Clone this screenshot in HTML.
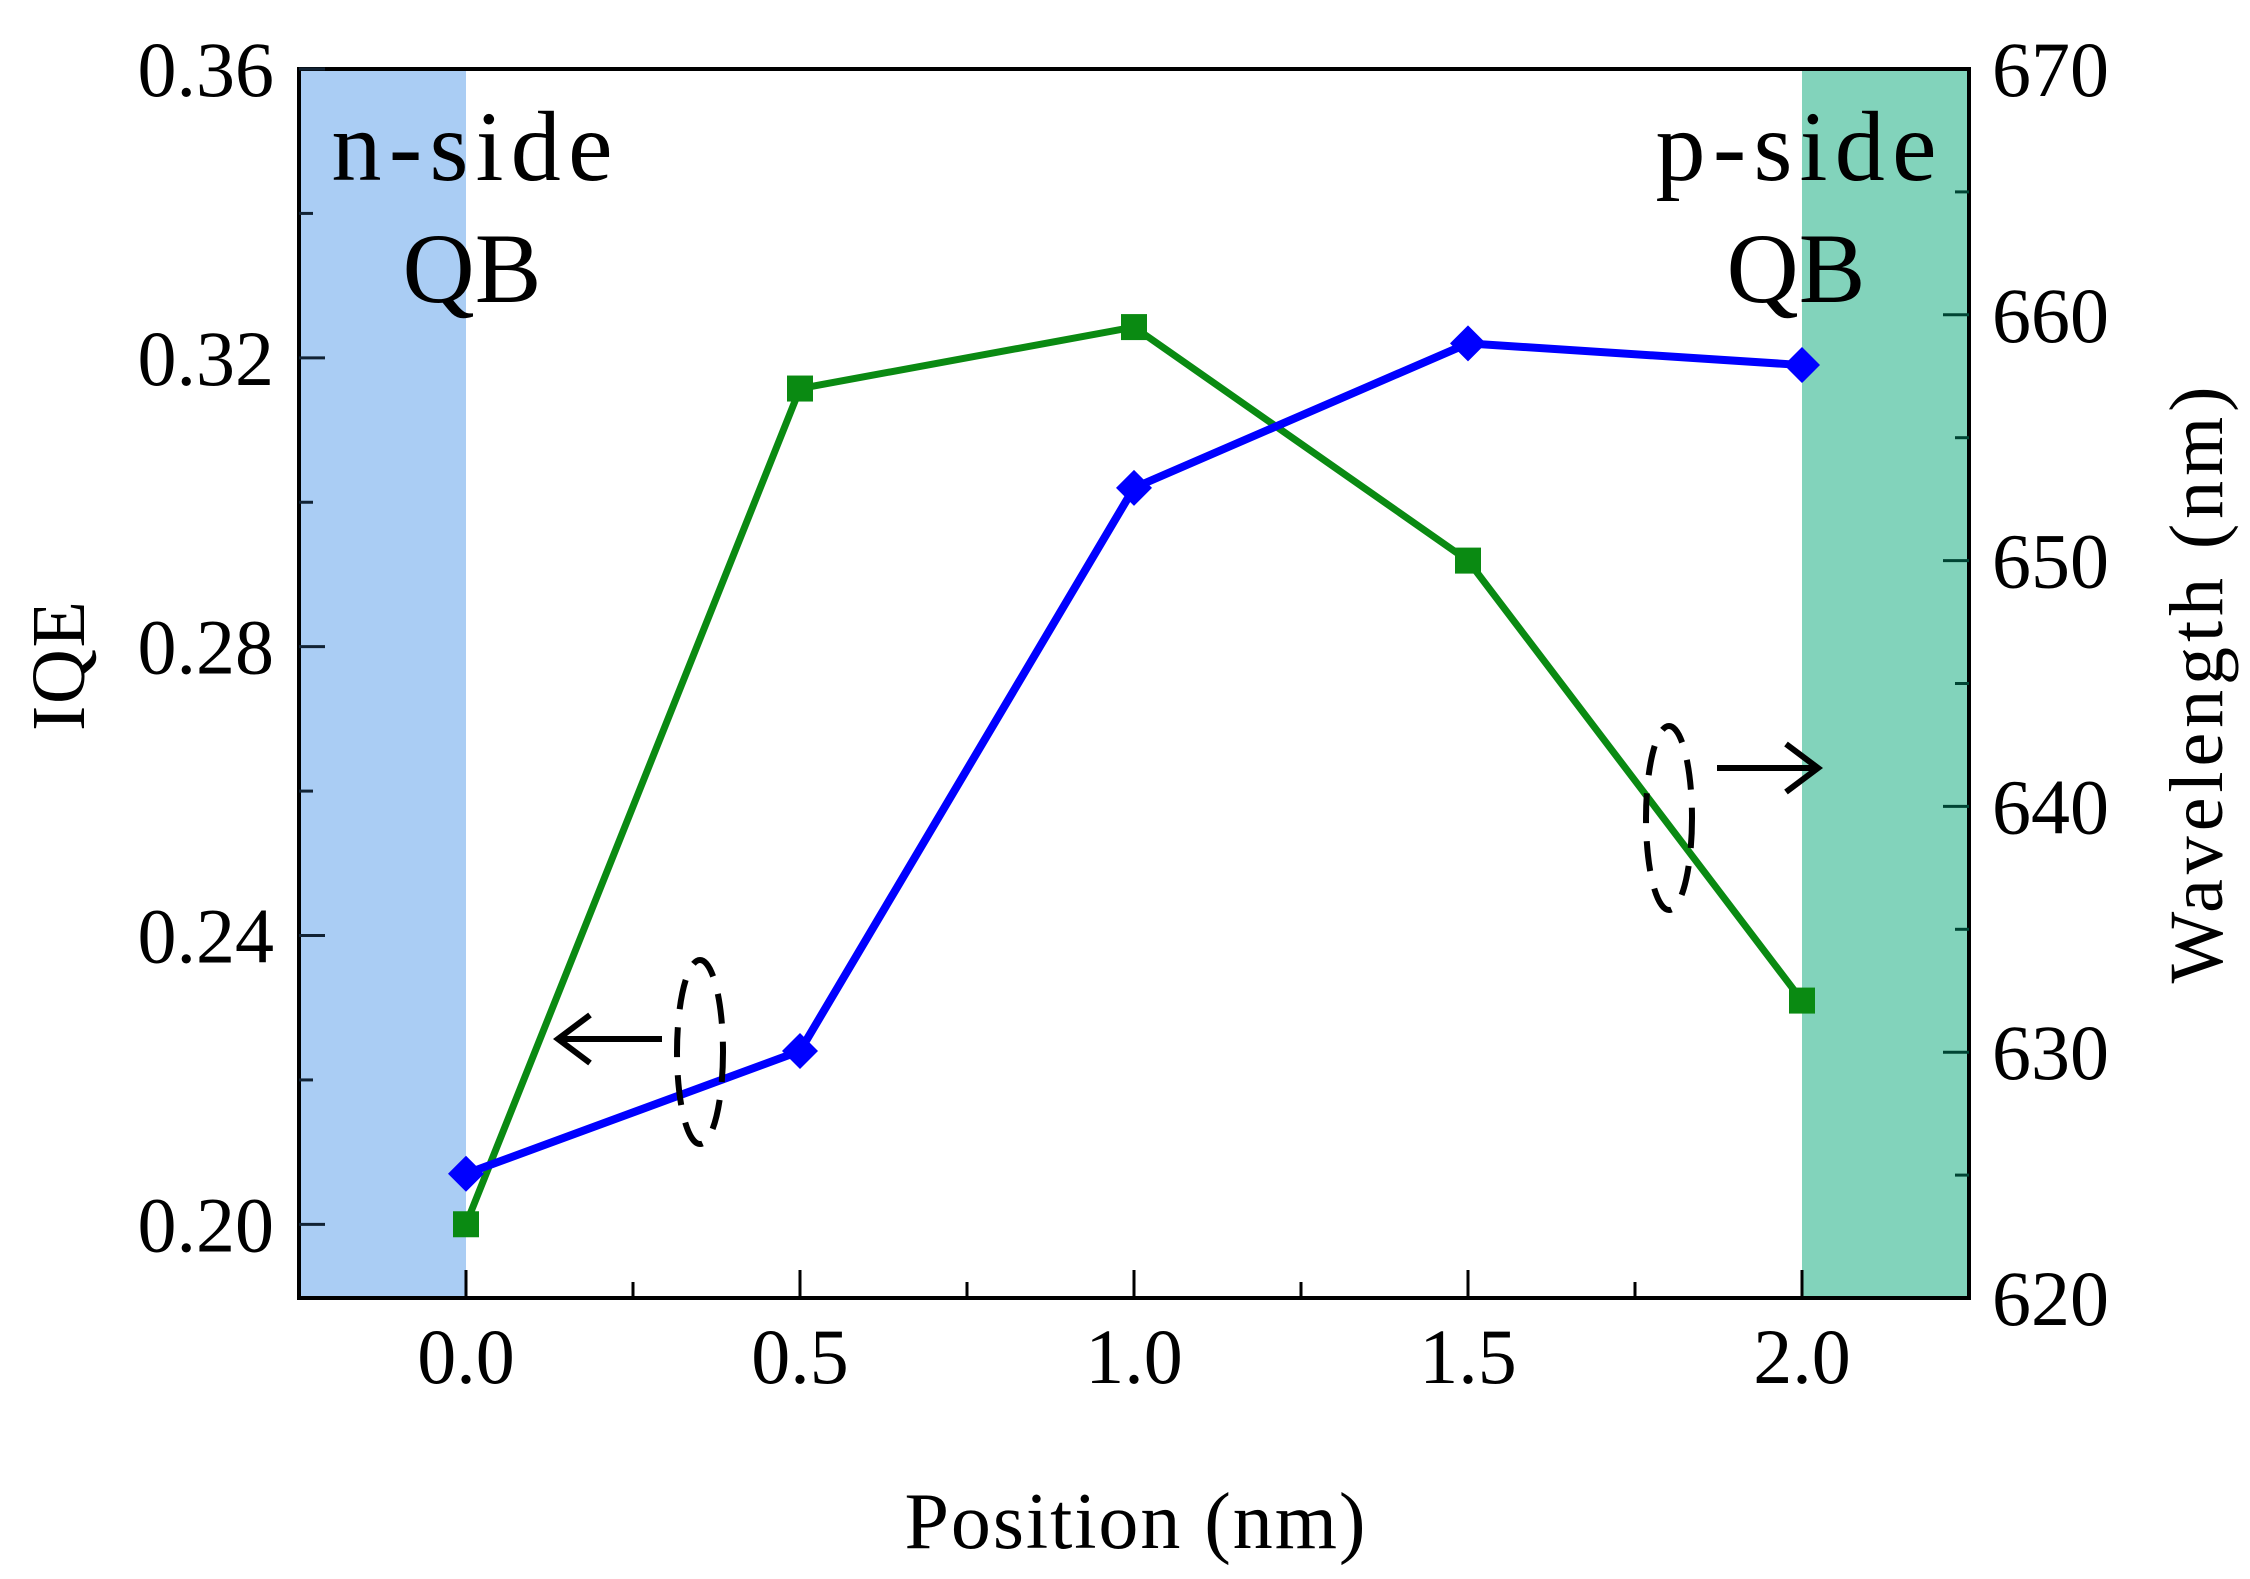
<!DOCTYPE html>
<html><head><meta charset="utf-8"><style>
html,body{margin:0;padding:0;background:#fff;}
svg{display:block;font-family:"Liberation Serif",serif;}
</style></head><body>
<svg id="chart" width="2250" height="1579" viewBox="0 0 2250 1579" xmlns="http://www.w3.org/2000/svg">
<g id="bands"></g>
<g id="series"></g>
<g id="axes"></g>
<g id="notes"></g>
</svg>
<script>
const positions = [0, 0.5, 1.0, 1.5, 2.0];
const iqeValues = [0.207, 0.224, 0.302, 0.322, 0.319];
const wavelengthValues = [623, 657, 659.5, 650, 632.1];
const xTickLabels = ["0.0", "0.5", "1.0", "1.5", "2.0"];
const yLeftTickLabels = ["0.20", "0.24", "0.28", "0.32", "0.36"];
const yRightTickLabels = ["620", "630", "640", "650", "660", "670"];

const L = 299, R = 1969, T = 69, B = 1298;
const xMin = -0.25, xMax = 2.25;
const yLMin = 0.1898, yLMax = 0.36;
const yRMin = 620, yRMax = 670;
function xs(v){ return L + (v - xMin) / (xMax - xMin) * (R - L); }
function yl(v){ return B - (v - yLMin) / (yLMax - yLMin) * (B - T); }
function yr(v){ return B - (v - yRMin) / (yRMax - yRMin) * (B - T); }

const NS = "http://www.w3.org/2000/svg";
function mk(tag, attrs, parent){
  const e = document.createElementNS(NS, tag);
  for (const k in attrs) e.setAttribute(k, attrs[k]);
  parent.appendChild(e);
  return e;
}
const bands = document.getElementById('bands');
const series = document.getElementById('series');
const axes = document.getElementById('axes');

let nb = mk('rect', {x: L, y: T, width: xs(0) - L, height: B - T, fill: '#aacdf4'}, bands);


let pb = mk('rect', {x: xs(2.0), y: T, width: R - xs(2.0), height: B - T, fill: '#82d3bb'}, bands);



let gp = positions.map((p, i) => xs(p) + ',' + yr(wavelengthValues[i])).join(' ');
let gl = mk('polyline', {points: gp, fill: 'none', stroke: '#0a8a12', 'stroke-width': 7, 'stroke-linejoin': 'round'}, series);


let bp = positions.map((p, i) => xs(p) + ',' + yl(iqeValues[i])).join(' ');
let bl = mk('polyline', {points: bp, fill: 'none', stroke: '#0000ff', 'stroke-width': 8, 'stroke-linejoin': 'round'}, series);



positions.forEach((p, i) => {
  const cx = xs(p), cy = yr(wavelengthValues[i]);
  let s = mk('rect', {x: cx - 13, y: cy - 13, width: 26, height: 26, fill: '#0a8a12'}, series);
  
  
});
positions.forEach((p, i) => {
  const cx = xs(p), cy = yl(iqeValues[i]);
  let d = mk('polygon', {points: `${cx},${cy-18} ${cx+18},${cy} ${cx},${cy+18} ${cx-18},${cy}`, fill: '#0000ff'}, series);
  
  
});

let fr = mk('rect', {x: L, y: T, width: R - L, height: B - T, fill: 'none', stroke: '#000', 'stroke-width': 4}, axes);



for (let v = -0.25; v <= 2.26; v += 0.25) {
  const major = Math.abs(v * 2 - Math.round(v * 2)) < 1e-6;
  const x = xs(v);
  if (x <= L + 2 || x >= R - 2) continue;
  let t = mk('line', {x1: x, y1: B, x2: x, y2: B - (major ? 28 : 16), stroke: '#000', 'stroke-width': 3}, axes);
  
  
}
positions.forEach((p, i) => {
  let t = mk('text', {x: xs(p), y: 1383, 'font-size': 78, 'text-anchor': 'middle'}, axes);
  t.textContent = xTickLabels[i];
  
  
});
for (let k = 0; k <= 8; k++) {
  const v = 0.20 + k * 0.02, y = yl(v);
  let t = mk('line', {x1: L, y1: y, x2: L + (k % 2 === 0 ? 26 : 14), y2: y, stroke: '#123', 'stroke-width': 3}, axes);
  
  
}
yLeftTickLabels.forEach((lab, i) => {
  let t = mk('text', {x: 274, y: yl(0.20 + i * 0.04) + 27, 'font-size': 78, 'text-anchor': 'end'}, axes);
  t.textContent = lab;
  
  
});
for (let k = 1; k < 10; k++) {
  const v = 620 + k * 5, y = yr(v);
  let t = mk('line', {x1: R, y1: y, x2: R - (k % 2 === 0 ? 26 : 14), y2: y, stroke: '#043', 'stroke-width': 3}, axes);
  
  
}
yRightTickLabels.forEach((lab, i) => {
  let t = mk('text', {x: 1992, y: yr(620 + i * 10) + 27, 'font-size': 78, 'text-anchor': 'start'}, axes);
  t.textContent = lab;
  
  
});
</script>
<svg style="position:absolute;left:0;top:0" width="2250" height="1579" viewBox="0 0 2250 1579" xmlns="http://www.w3.org/2000/svg" font-family="Liberation Serif, serif">
<text x="1135" y="1548" font-size="80" text-anchor="middle" textLength="461">Position (nm)</text>
<text transform="translate(84,666) rotate(-90)" font-size="76" text-anchor="middle" textLength="130">IQE</text>
<text transform="translate(2222,685) rotate(-90)" font-size="76" text-anchor="middle" textLength="597">Wavelength (nm)</text>
<text x="472" y="180" font-size="100" text-anchor="middle" textLength="281">n-side</text>
<text x="472" y="302" font-size="100" text-anchor="middle">QB</text>
<text x="1796" y="180" font-size="100" text-anchor="middle" textLength="281">p-side</text>
<text x="1796" y="302" font-size="100" text-anchor="middle">QB</text>
<ellipse cx="700" cy="1052" rx="23" ry="92" fill="none" stroke="#000" stroke-width="6" stroke-dasharray="30,18"/>
<line x1="662" y1="1039" x2="560" y2="1039" stroke="#000" stroke-width="6"/>
<polyline points="590,1015 558,1039 590,1063" fill="none" stroke="#000" stroke-width="6"/>
<ellipse cx="1669" cy="818" rx="23" ry="92" fill="none" stroke="#000" stroke-width="6" stroke-dasharray="30,18"/>
<line x1="1717" y1="768" x2="1815" y2="768" stroke="#000" stroke-width="6"/>
<polyline points="1786,744 1818,768 1786,792" fill="none" stroke="#000" stroke-width="6"/>
</svg>
</body></html>
